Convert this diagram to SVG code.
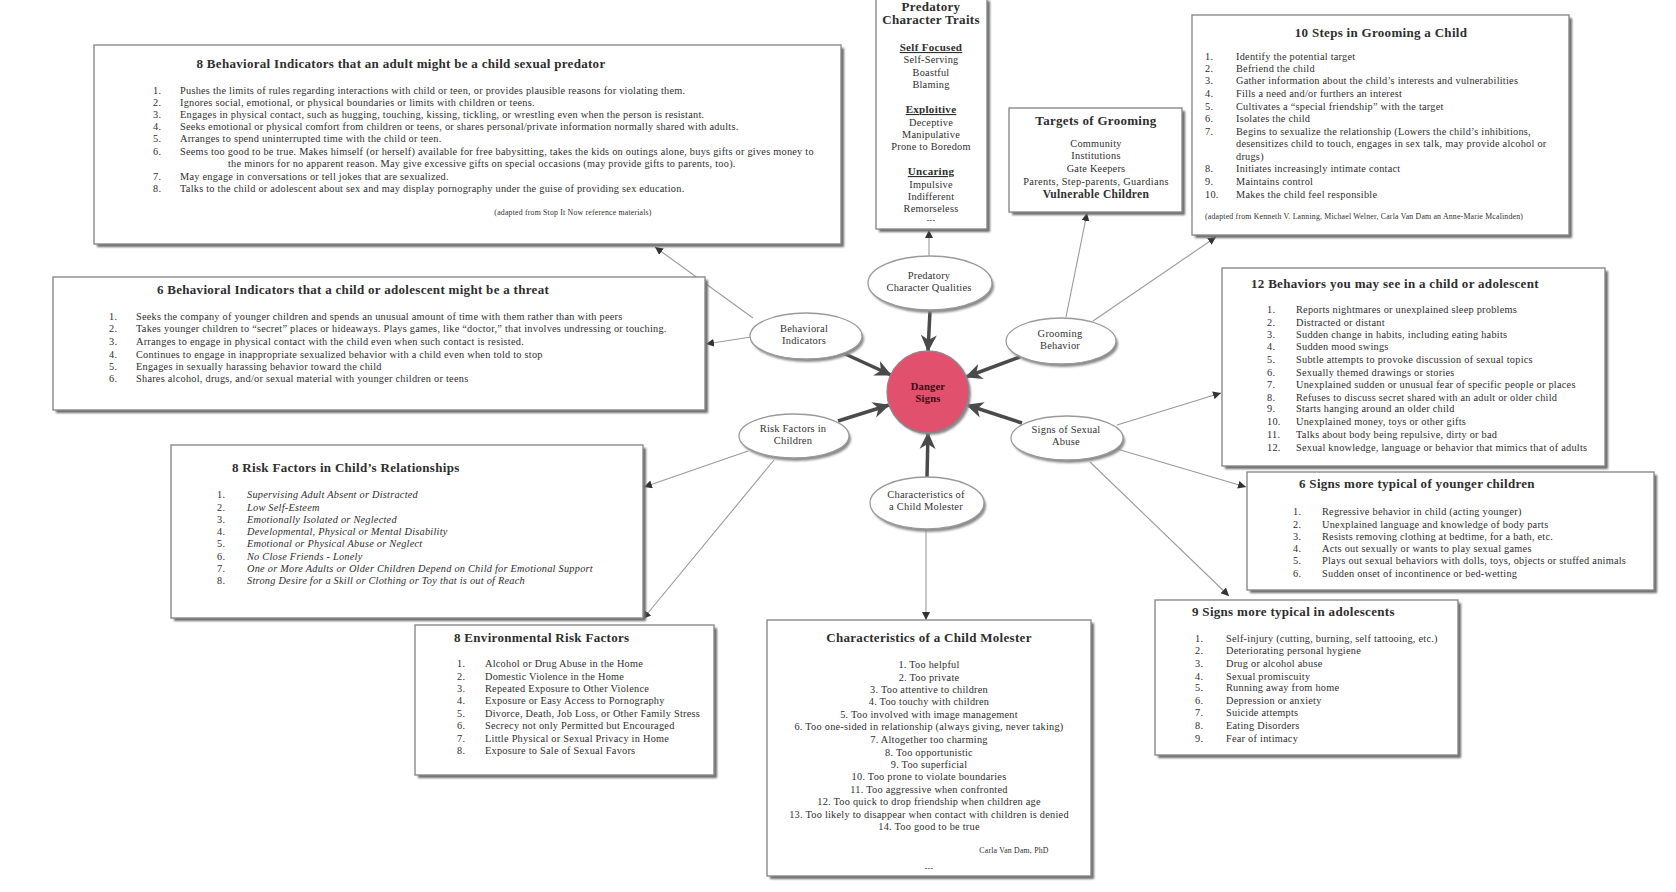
<svg xmlns="http://www.w3.org/2000/svg" width="1676" height="892" viewBox="0 0 1676 892">
<defs>
<filter id="blur" x="-10%" y="-10%" width="120%" height="120%"><feGaussianBlur stdDeviation="1.2"/></filter>
<marker id="thick" markerUnits="userSpaceOnUse" markerWidth="20" markerHeight="18" refX="16" refY="9" orient="auto"><path d="M0,1 L17,9 L0,17 L5,9 z" fill="#4a4a4a"/></marker>
<marker id="thin" markerUnits="userSpaceOnUse" markerWidth="9" markerHeight="8" refX="8" refY="4" orient="auto"><path d="M0,0 L8,4 L0,8 z" fill="#333"/></marker>
</defs>
<style>
.box{fill:#fff;stroke:#8a8a8a;stroke-width:1.4}
.sh{fill:#6a6a6a;filter:url(#blur)}
.ell{fill:#fff;stroke:#9a9a9a;stroke-width:1.3}
.esh{fill:#8a8a8a;filter:url(#blur)}
text{font-family:"Liberation Serif","DejaVu Serif",serif;fill:#2e2e2e}
.t{font-size:13px;font-weight:bold;letter-spacing:0.3px}
.b{font-size:10.3px;letter-spacing:0.25px}
.s{font-size:7.8px;letter-spacing:0.2px}
.i{font-style:italic}
.c{text-anchor:middle}
.u{font-size:11px;font-weight:bold;text-decoration:underline;letter-spacing:0.3px;text-anchor:middle}
.lab{font-size:10.5px;letter-spacing:0.2px;text-anchor:middle;fill:#333}
.thin{stroke:#9a9a9a;stroke-width:1.1;fill:none;marker-end:url(#thin)}
.thk{stroke:#4a4a4a;stroke-width:3.5;fill:none;marker-end:url(#thick)}
</style>
<rect width="1676" height="892" fill="#fff"/>

<g id="connectors">
<line class="thin" x1="753" y1="318" x2="655" y2="247"/>
<line class="thin" x1="751" y1="337" x2="706" y2="344"/>
<line class="thin" x1="929" y1="256" x2="929" y2="230"/>
<line class="thin" x1="1066" y1="317" x2="1087" y2="213"/>
<line class="thin" x1="1093" y1="321" x2="1216" y2="237"/>
<line class="thin" x1="1117" y1="425" x2="1221" y2="393"/>
<line class="thin" x1="1117" y1="449" x2="1246" y2="487"/>
<line class="thin" x1="1090" y1="462" x2="1229" y2="596"/>
<line class="thin" x1="748" y1="451" x2="644" y2="487"/>
<line class="thin" x1="774" y1="460" x2="643" y2="619"/>
<line class="thin" x1="926" y1="530" x2="926" y2="620"/>
<line class="thk" x1="930" y1="311" x2="928" y2="351"/>
<line class="thk" x1="843" y1="353" x2="891" y2="375"/>
<line class="thk" x1="1020" y1="357" x2="966" y2="377"/>
<line class="thk" x1="838" y1="421" x2="889" y2="405"/>
<line class="thk" x1="1022" y1="423" x2="967" y2="405"/>
<line class="thk" x1="927" y1="477" x2="928" y2="433"/>
</g>

<g id="danger-signs">
<circle cx="930" cy="394" r="41" class="esh"/>
<circle cx="928" cy="392" r="41" fill="#e1506d" stroke="#8a8a8a" stroke-width="1.3"/>
<text class="lab" x="928" y="390" font-weight="bold" style="fill:#3a0a12">Danger</text>
<text class="lab" x="928" y="402" font-weight="bold" style="fill:#3a0a12">Signs</text>
</g>

<g id="ell-predatory">
<ellipse cx="932" cy="286" rx="62" ry="27" class="esh"/>
<ellipse cx="930" cy="283" rx="62" ry="27" class="ell"/>
<text class="lab" x="929" y="279">Predatory</text>
<text class="lab" x="929" y="291">Character Qualities</text>
</g>
<g id="ell-behavioral">
<ellipse cx="808" cy="339" rx="56" ry="23" class="esh"/>
<ellipse cx="806" cy="336" rx="56" ry="23" class="ell"/>
<text class="lab" x="804" y="332">Behavioral</text>
<text class="lab" x="804" y="344">Indicators</text>
</g>
<g id="ell-grooming">
<ellipse cx="1063" cy="344" rx="55" ry="23" class="esh"/>
<ellipse cx="1061" cy="341" rx="55" ry="23" class="ell"/>
<text class="lab" x="1060" y="337">Grooming</text>
<text class="lab" x="1060" y="349">Behavior</text>
</g>
<g id="ell-risk">
<ellipse cx="796" cy="439" rx="55" ry="22" class="esh"/>
<ellipse cx="794" cy="436" rx="55" ry="22" class="ell"/>
<text class="lab" x="793" y="432">Risk Factors in</text>
<text class="lab" x="793" y="444">Children</text>
</g>
<g id="ell-signs">
<ellipse cx="1069" cy="441" rx="56" ry="22" class="esh"/>
<ellipse cx="1067" cy="438" rx="56" ry="22" class="ell"/>
<text class="lab" x="1066" y="433">Signs of Sexual</text>
<text class="lab" x="1066" y="445">Abuse</text>
</g>
<g id="ell-characteristics">
<ellipse cx="929" cy="506" rx="57" ry="26" class="esh"/>
<ellipse cx="927" cy="503" rx="57" ry="26" class="ell"/>
<text class="lab" x="926" y="498">Characteristics of</text>
<text class="lab" x="926" y="510">a Child Molester</text>
</g>

<g id="box-adult-indicators">
<rect x="97" y="48" width="747" height="199" class="sh"/>
<rect x="94" y="45" width="747" height="199" class="box"/>
<text class="t c" x="401" y="68">8 Behavioral Indicators that an adult might be a child sexual predator</text>
<g class="b">
<text x="153" y="94">1.</text><text x="180" y="94">Pushes the limits of rules regarding interactions with child or teen, or provides plausible reasons for violating them.</text>
<text x="153" y="106">2.</text><text x="180" y="106">Ignores social, emotional, or physical boundaries or limits with children or teens.</text>
<text x="153" y="118">3.</text><text x="180" y="118">Engages in physical contact, such as hugging, touching, kissing, tickling, or wrestling even when the person is resistant.</text>
<text x="153" y="130">4.</text><text x="180" y="130">Seeks emotional or physical comfort from children or teens, or shares personal/private information normally shared with adults.</text>
<text x="153" y="142">5.</text><text x="180" y="142">Arranges to spend uninterrupted time with the child or teen.</text>
<text x="153" y="155">6.</text><text x="180" y="155">Seems too good to be true.  Makes himself (or herself) available for free babysitting, takes the kids on outings alone, buys gifts or gives money to</text>
<text x="228" y="167">the minors for no apparent reason.  May give excessive gifts on special occasions (may provide gifts to parents, too).</text>
<text x="153" y="180">7.</text><text x="180" y="180">May engage in conversations or tell jokes that are sexualized.</text>
<text x="153" y="192">8.</text><text x="180" y="192">Talks to the child or adolescent about sex and may display pornography under the guise of providing sex education.</text>
</g>
<text class="s c" x="573" y="215">(adapted from Stop It Now reference materials)</text>
</g>

<g id="box-child-indicators">
<rect x="56" y="280" width="652" height="133" class="sh"/>
<rect x="53" y="277" width="652" height="133" class="box"/>
<text class="t c" x="353" y="294">6 Behavioral Indicators that a child or adolescent might be a threat</text>
<g class="b">
<text x="109" y="320">1.</text><text x="136" y="320">Seeks the company of younger children and spends an unusual amount of time with them rather than with peers</text>
<text x="109" y="332">2.</text><text x="136" y="332">Takes younger children to “secret” places or hideaways.  Plays games, like “doctor,” that involves undressing or touching.</text>
<text x="109" y="345">3.</text><text x="136" y="345">Arranges to engage in physical contact with the child even when such contact is resisted.</text>
<text x="109" y="358">4.</text><text x="136" y="358">Continues to engage in inappropriate sexualized behavior with a child even when told to stop</text>
<text x="109" y="370">5.</text><text x="136" y="370">Engages in sexually harassing behavior toward the child</text>
<text x="109" y="382">6.</text><text x="136" y="382">Shares alcohol, drugs, and/or sexual material with younger children or teens</text>
</g>
</g>

<g id="box-risk-relationships">
<rect x="174" y="448" width="472" height="173" class="sh"/>
<rect x="171" y="445" width="472" height="173" class="box"/>
<text class="t" x="232" y="472">8 Risk Factors in Child’s Relationships</text>
<g class="b">
<text x="217" y="498">1.</text><text class="i" x="247" y="498">Supervising Adult Absent or Distracted</text>
<text x="217" y="511">2.</text><text class="i" x="247" y="511">Low Self-Esteem</text>
<text x="217" y="523">3.</text><text class="i" x="247" y="523">Emotionally Isolated or Neglected</text>
<text x="217" y="535">4.</text><text class="i" x="247" y="535">Developmental, Physical or Mental Disability</text>
<text x="217" y="547">5.</text><text class="i" x="247" y="547">Emotional or Physical Abuse or Neglect</text>
<text x="217" y="560">6.</text><text class="i" x="247" y="560">No Close Friends - Lonely</text>
<text x="217" y="572">7.</text><text class="i" x="247" y="572">One or More Adults or Older Children Depend on Child for Emotional Support</text>
<text x="217" y="584">8.</text><text class="i" x="247" y="584">Strong Desire for a Skill or Clothing or Toy that is out of Reach</text>
</g>
</g>

<g id="box-environmental">
<rect x="418" y="628" width="299" height="150" class="sh"/>
<rect x="415" y="625" width="299" height="150" class="box"/>
<text class="t" x="454" y="642">8 Environmental Risk Factors</text>
<g class="b">
<text x="457" y="667">1.</text><text x="485" y="667">Alcohol or Drug Abuse in the Home</text>
<text x="457" y="680">2.</text><text x="485" y="680">Domestic Violence in the Home</text>
<text x="457" y="692">3.</text><text x="485" y="692">Repeated Exposure to Other Violence</text>
<text x="457" y="704">4.</text><text x="485" y="704">Exposure or Easy Access to Pornography</text>
<text x="457" y="717">5.</text><text x="485" y="717">Divorce, Death, Job Loss, or Other Family Stress</text>
<text x="457" y="729">6.</text><text x="485" y="729">Secrecy not only Permitted but Encouraged</text>
<text x="457" y="742">7.</text><text x="485" y="742">Little Physical or Sexual Privacy in Home</text>
<text x="457" y="754">8.</text><text x="485" y="754">Exposure to Sale of Sexual Favors</text>
</g>
</g>

<g id="box-molester">
<rect x="770" y="623" width="324" height="256" class="sh"/>
<rect x="767" y="620" width="324" height="256" class="box"/>
<text class="t c" x="929" y="642">Characteristics of a Child Molester</text>
<g class="b c">
<text x="929" y="668">1.  Too helpful</text>
<text x="929" y="681">2.  Too private</text>
<text x="929" y="693">3.  Too attentive to children</text>
<text x="929" y="705">4.  Too touchy with children</text>
<text x="929" y="718">5.  Too involved with image management</text>
<text x="929" y="730">6.  Too one-sided in relationship (always giving, never taking)</text>
<text x="929" y="743">7.  Altogether too charming</text>
<text x="929" y="756">8.  Too opportunistic</text>
<text x="929" y="768">9.  Too superficial</text>
<text x="929" y="780">10.  Too prone to violate boundaries</text>
<text x="929" y="793">11.  Too aggressive when confronted</text>
<text x="929" y="805">12.  Too quick to drop friendship when children age</text>
<text x="929" y="818">13.  Too likely to disappear when contact with children is denied</text>
<text x="929" y="830">14.  Too good to be true</text>
</g>
<text class="s c" x="1014" y="853">Carla Van Dam, PhD</text>
<text class="s c" x="929" y="871">---</text>
</g>

<g id="box-predatory-traits">
<rect x="879" y="1" width="111" height="231" class="sh"/>
<rect x="876" y="-2" width="111" height="231" class="box"/>
<text class="t c" x="931" y="11">Predatory</text>
<text class="t c" x="931" y="24">Character Traits</text>
<text class="u" x="931" y="51">Self Focused</text>
<g class="b c">
<text x="931" y="63">Self-Serving</text>
<text x="931" y="76">Boastful</text>
<text x="931" y="88">Blaming</text>
</g>
<text class="u" x="931" y="113">Exploitive</text>
<g class="b c">
<text x="931" y="126">Deceptive</text>
<text x="931" y="138">Manipulative</text>
<text x="931" y="150">Prone to Boredom</text>
</g>
<text class="u" x="931" y="175">Uncaring</text>
<g class="b c">
<text x="931" y="188">Impulsive</text>
<text x="931" y="200">Indifferent</text>
<text x="931" y="212">Remorseless</text>
</g>
<text class="s c" x="931" y="223">---</text>
</g>

<g id="box-targets">
<rect x="1012" y="111" width="173" height="104" class="sh"/>
<rect x="1009" y="108" width="173" height="104" class="box"/>
<text class="t c" x="1096" y="125">Targets of Grooming</text>
<g class="b c">
<text x="1096" y="147">Community</text>
<text x="1096" y="159">Institutions</text>
<text x="1096" y="172">Gate Keepers</text>
<text x="1096" y="185" style="letter-spacing:0.35px">Parents, Step-parents, Guardians</text>
</g>
<text class="c" x="1096" y="198" font-size="11.5px" font-weight="bold" style="letter-spacing:0.3px">Vulnerable Children</text>
</g>

<g id="box-grooming-steps">
<rect x="1195" y="18" width="377" height="220" class="sh"/>
<rect x="1192" y="15" width="377" height="220" class="box"/>
<text class="t c" x="1381" y="37">10 Steps in Grooming a Child</text>
<g class="b">
<text x="1205" y="60">1.</text><text x="1236" y="60">Identify the potential target</text>
<text x="1205" y="72">2.</text><text x="1236" y="72">Befriend the child</text>
<text x="1205" y="84">3.</text><text x="1236" y="84">Gather information about the child’s interests and vulnerabilities</text>
<text x="1205" y="97">4.</text><text x="1236" y="97">Fills a need and/or furthers an interest</text>
<text x="1205" y="110">5.</text><text x="1236" y="110">Cultivates a “special friendship” with the target</text>
<text x="1205" y="122">6.</text><text x="1236" y="122">Isolates the child</text>
<text x="1205" y="135">7.</text><text x="1236" y="135">Begins to sexualize the relationship (Lowers the child’s inhibitions,</text>
<text x="1236" y="147">desensitizes child to touch, engages in sex talk, may provide alcohol or</text>
<text x="1236" y="160">drugs)</text>
<text x="1205" y="172">8.</text><text x="1236" y="172">Initiates increasingly intimate contact</text>
<text x="1205" y="185">9.</text><text x="1236" y="185">Maintains control</text>
<text x="1205" y="198">10.</text><text x="1236" y="198">Makes the child feel responsible</text>
</g>
<text class="s" x="1205" y="219">(adapted from Kenneth V. Lanning, Michael Welner, Carla Van Dam an Anne-Marie Mcalinden)</text>
</g>

<g id="box-twelve-behaviors">
<rect x="1225" y="271" width="383" height="198" class="sh"/>
<rect x="1222" y="268" width="383" height="198" class="box"/>
<text class="t" x="1251" y="288">12 Behaviors you may see in a child or adolescent</text>
<g class="b">
<text x="1267" y="313">1.</text><text x="1296" y="313">Reports nightmares or unexplained sleep problems</text>
<text x="1267" y="326">2.</text><text x="1296" y="326">Distracted or distant</text>
<text x="1267" y="338">3.</text><text x="1296" y="338">Sudden change in habits, including eating habits</text>
<text x="1267" y="350">4.</text><text x="1296" y="350">Sudden mood swings</text>
<text x="1267" y="363">5.</text><text x="1296" y="363">Subtle attempts to provoke discussion of sexual topics</text>
<text x="1267" y="376">6.</text><text x="1296" y="376">Sexually themed drawings or stories</text>
<text x="1267" y="388">7.</text><text x="1296" y="388">Unexplained sudden or unusual fear of specific people or places</text>
<text x="1267" y="401">8.</text><text x="1296" y="401">Refuses to discuss secret shared with an adult or older child</text>
<text x="1267" y="412">9.</text><text x="1296" y="412">Starts hanging around an older child</text>
<text x="1267" y="425">10.</text><text x="1296" y="425">Unexplained money, toys or other gifts</text>
<text x="1267" y="438">11.</text><text x="1296" y="438">Talks about body being repulsive, dirty or bad</text>
<text x="1267" y="451">12.</text><text x="1296" y="451">Sexual knowledge, language or behavior that mimics that of adults</text>
</g>
</g>

<g id="box-younger-signs">
<rect x="1250" y="475" width="407" height="118" class="sh"/>
<rect x="1247" y="472" width="407" height="118" class="box"/>
<text class="t" x="1299" y="488">6 Signs more typical of younger children</text>
<g class="b">
<text x="1293" y="515">1.</text><text x="1322" y="515">Regressive behavior in child (acting younger)</text>
<text x="1293" y="528">2.</text><text x="1322" y="528">Unexplained language and knowledge of body parts</text>
<text x="1293" y="540">3.</text><text x="1322" y="540">Resists removing clothing at bedtime, for a bath, etc.</text>
<text x="1293" y="552">4.</text><text x="1322" y="552">Acts out sexually or wants to play sexual games</text>
<text x="1293" y="564">5.</text><text x="1322" y="564">Plays out sexual behaviors with dolls, toys, objects or stuffed animals</text>
<text x="1293" y="577">6.</text><text x="1322" y="577">Sudden onset of incontinence or bed-wetting</text>
</g>
</g>

<g id="box-adolescent-signs">
<rect x="1158" y="603" width="303" height="155" class="sh"/>
<rect x="1155" y="600" width="303" height="155" class="box"/>
<text class="t" x="1192" y="616">9 Signs more typical in adolescents</text>
<g class="b">
<text x="1195" y="642">1.</text><text x="1226" y="642">Self-injury (cutting, burning, self tattooing, etc.)</text>
<text x="1195" y="654">2.</text><text x="1226" y="654">Deteriorating personal hygiene</text>
<text x="1195" y="667">3.</text><text x="1226" y="667">Drug or alcohol abuse</text>
<text x="1195" y="680">4.</text><text x="1226" y="680">Sexual promiscuity</text>
<text x="1195" y="691">5.</text><text x="1226" y="691">Running away from home</text>
<text x="1195" y="704">6.</text><text x="1226" y="704">Depression or anxiety</text>
<text x="1195" y="716">7.</text><text x="1226" y="716">Suicide attempts</text>
<text x="1195" y="729">8.</text><text x="1226" y="729">Eating Disorders</text>
<text x="1195" y="742">9.</text><text x="1226" y="742">Fear of intimacy</text>
</g>
</g>
</svg>
